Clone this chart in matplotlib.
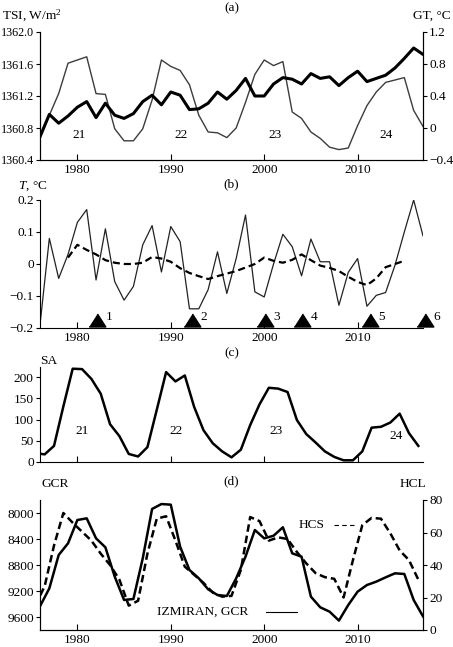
import numpy as np
import matplotlib
matplotlib.use("Agg")
import matplotlib.pyplot as plt
from matplotlib.ticker import FuncFormatter, MultipleLocator

plt.rcParams["font.family"] = ["Liberation Serif", "DejaVu Serif"]
plt.rcParams["mathtext.fontset"] = "custom"
plt.rcParams["mathtext.rm"] = "Liberation Serif"
plt.rcParams["mathtext.it"] = "Liberation Serif:italic"
plt.rcParams["font.size"] = 9.6

# ---- data ----
years = list(range(1976, 2018))

tsi = [1360.69, 1360.96, 1361.23, 1361.61, 1361.65, 1361.69, 1361.23, 1361.22,
       1360.79, 1360.64, 1360.64, 1360.79, 1361.15, 1361.65, 1361.57, 1361.52,
       1361.34, 1360.96, 1360.75, 1360.74, 1360.68, 1360.80, 1361.12, 1361.47,
       1361.65, 1361.58, 1361.63, 1361.00, 1360.92, 1360.75, 1360.67, 1360.56,
       1360.53, 1360.55, 1360.83, 1361.08, 1361.25, 1361.37, 1361.40, 1361.43,
       1361.02, 1360.82]

gt = [-0.11, 0.17, 0.06, 0.15, 0.26, 0.33, 0.13, 0.31, 0.16, 0.12, 0.18, 0.33,
      0.41, 0.29, 0.45, 0.41, 0.23, 0.24, 0.31, 0.45, 0.36, 0.47, 0.62, 0.40,
      0.40, 0.55, 0.63, 0.61, 0.55, 0.68, 0.62, 0.64, 0.53, 0.63, 0.71, 0.58,
      0.62, 0.66, 0.75, 0.87, 1.00, 0.92]

t_resid = [-0.19, 0.08, -0.045, 0.03, 0.13, 0.17, -0.05, 0.11, -0.055, -0.113,
           -0.07, 0.06, 0.12, -0.025, 0.117, 0.07, -0.14, -0.14, -0.08, 0.038,
           -0.092, 0.017, 0.153, -0.087, -0.103, 0.0, 0.093, 0.054, -0.037, 0.078,
           0.007, 0.007, -0.129, -0.026, 0.017, -0.132, -0.098, -0.089, -0.004,
           0.1, 0.2, 0.088]

smooth_years = list(range(1979, 2016))
t_smooth = [0.02, 0.06, 0.044, 0.03, 0.012, 0.004, 0.0, 0.0, 0.004, 0.022, 0.017,
            0.007, -0.013, -0.028, -0.038, -0.047, -0.038, -0.03, -0.022, -0.011,
            0.0, 0.02, 0.01, 0.004, 0.013, 0.03, 0.012, -0.005, -0.012, -0.022,
            -0.04, -0.056, -0.066, -0.045, -0.01, 0.0, 0.01]

volcano_years = [1982.1, 1992.3, 2000.1, 2004.1, 2011.3, 2017.2]
volcano_labels = ["1", "2", "3", "4", "5", "6"]

mid_years = [y + 0.5 for y in range(1975, 2017)]
sa = [21, 18, 38, 131, 220, 219, 196, 161, 89, 61, 19, 13, 35, 123, 212, 190,
      204, 130, 75, 44, 25, 11, 29, 87, 136, 175, 173, 165, 99, 66, 46, 25, 12,
      4, 4, 25, 81, 83, 93, 114, 68, 38]

gcr = [9435, 9159, 8646, 8467, 8108, 8082, 8390, 8528, 8979, 9338, 9323, 8697,
       7938, 7862, 7872, 8518, 8877, 9005, 9174, 9262, 9277, 9005, 8672, 8262,
       8390, 8350, 8220, 8620, 8672, 9287, 9451, 9518, 9655, 9415, 9210, 9108,
       9056, 8990, 8928, 8938, 9338, 9590]

hcs = [15, 27, 52, 72, 66, 60.5, 55, 47, 40, 31, 15, 18, 47, 68.5, 70, 55, 39,
       34, 29, 23, 20.5, 21, 37, 69.5, 67, 55, 57, 56, 48, 41, 35, 32.5, 31.5,
       20, 43, 64.5, 69, 68.5, 59.5, 49, 43, 31]

cycle_names = ["21", "22", "23", "24"]
cycle_x_a = [1980.2, 1991.1, 2001.2, 2013.1]
cycle_x_c = [1980.5, 1990.55, 2001.3, 2014.1]
cycle_y_c = [74, 74, 74, 61]

W, H = 453, 647
fig = plt.figure(figsize=(W / 100, H / 100), dpi=100)


def box(top, bottom, left=40, right=423):
    return [left / W, 1 - bottom / H, (right - left) / W, (bottom - top) / H]


def zero_fmt(v, pos):
    if abs(v) < 1e-9:
        return "0"
    return "%.1f" % v if v > 0 else "\u2212%.1f" % abs(v)


def style(ax, right=False, xlabels=True):
    for s in ["top"] + ([] if right else ["right"]):
        ax.spines[s].set_visible(False)
    ax.tick_params(axis="x", direction="in", length=4, width=0.8, pad=3,
                   labelbottom=xlabels)
    ax.tick_params(axis="y", direction="out", length=3, width=0.8, pad=1.5)
    ax.set_xlim(1976, 2017)
    ax.set_xticks([1980, 1990, 2000, 2010])


# (a) TSI and GT
ax_a = fig.add_axes(box(32, 160))
ax_a.plot(years, tsi, color="#3c3c3c", lw=1.0)
ax_a.set_ylim(1360.4, 1362.0)
ax_a.yaxis.set_major_locator(MultipleLocator(0.4))
ax_a.yaxis.set_major_formatter(FuncFormatter(lambda v, p: "%.1f" % v))
style(ax_a, right=True)
ax_a.tick_params(axis="y", labelsize=8.7, pad=1.0)
for name, x in zip(cycle_names, cycle_x_a):
    ax_a.text(x, 1360.71, name, ha="center", va="center")
ax_g = ax_a.twinx()
ax_g.plot(years, gt, color="black", lw=2.2)
ax_g.set_ylim(-0.4, 1.2)
ax_g.yaxis.set_major_locator(MultipleLocator(0.4))
ax_g.yaxis.set_major_formatter(FuncFormatter(zero_fmt))
ax_g.spines["top"].set_visible(False)
ax_g.tick_params(axis="y", direction="out", length=3, width=0.8, pad=1.5)

# (b) temperature residuals
ax_b = fig.add_axes(box(200, 328))
ax_b.plot(years, t_resid, color="#222222", lw=0.9)
ax_b.plot(smooth_years, t_smooth, color="black", lw=1.6, dashes=(3.2, 1.8))
ax_b.plot(volcano_years, [-0.174] * len(volcano_years), ls="none", color="black",
          marker=[(-1, -0.78), (1, -0.78), (0, 0.78)], ms=12, clip_on=False)
for x, lab in zip(volcano_years, volcano_labels):
    ax_b.text(x + 0.9, -0.166, lab, ha="left", va="center", clip_on=False)
ax_b.set_ylim(-0.2, 0.2)
ax_b.yaxis.set_major_locator(MultipleLocator(0.1))
ax_b.yaxis.set_major_formatter(FuncFormatter(zero_fmt))
style(ax_b)

# (c) sunspot activity
ax_c = fig.add_axes(box(367, 462))
ax_c.plot(mid_years, sa, color="black", lw=1.8)
ax_c.set_ylim(0, 224)
ax_c.set_yticks([0, 50, 100, 150, 200])
style(ax_c, xlabels=False)
for name, x, y in zip(cycle_names, cycle_x_c, cycle_y_c):
    ax_c.text(x, y, name, ha="center", va="center")

# (d) cosmic rays and heliospheric current sheet
ax_d = fig.add_axes(box(500, 630))
ax_d.plot(years, gcr, color="black", lw=1.8)
ax_d.set_ylim(9800, 7800)
ax_d.set_yticks([8000, 8400, 8800, 9200, 9600])
style(ax_d, right=True)
ax_h = ax_d.twinx()
ax_h.plot(mid_years, hcs, color="black", lw=1.8, dashes=(3.0, 1.6))
ax_h.set_ylim(0, 80)
ax_h.set_yticks([0, 20, 40, 60, 80])
ax_h.spines["top"].set_visible(False)
ax_h.tick_params(axis="y", direction="out", length=3, width=0.8, pad=1.5)
ax_h.set_xlim(1976, 2017)

ax_d.text(0.305, 0.138, "IZMIRAN, GCR", transform=ax_d.transAxes,
          ha="left", va="center")
ax_d.plot([0.59, 0.671], [0.138, 0.138], transform=ax_d.transAxes,
          color="black", lw=0.8)
ax_d.text(0.674, 0.808, "HCS", transform=ax_d.transAxes, ha="left", va="center")
ax_d.plot([0.768, 0.822], [0.808, 0.808], transform=ax_d.transAxes,
          color="black", lw=0.8, dashes=(4, 3))

# panel titles and axis captions
for lab, y in [("(a)", 8), ("(b)", 184), ("(c)", 353), ("(d)", 481)]:
    fig.text(231.5 / W, 1 - y / H, lab, ha="center", va="center")
fig.text(2 / W, 1 - 16 / H, "TSI, W/m$^2$", ha="left", va="center")
fig.text(451 / W, 1 - 16 / H, "GT, \u00b0C", ha="right", va="center")
fig.text(18 / W, 1 - 186 / H, "$T$, \u00b0C", ha="left", va="center")
fig.text(40 / W, 1 - 361 / H, "SA", ha="left", va="center")
fig.text(41 / W, 1 - 484 / H, "GCR", ha="left", va="center")
fig.text(426 / W, 1 - 484 / H, "HCL", ha="right", va="center")

fig.savefig("out.png", dpi=100)
